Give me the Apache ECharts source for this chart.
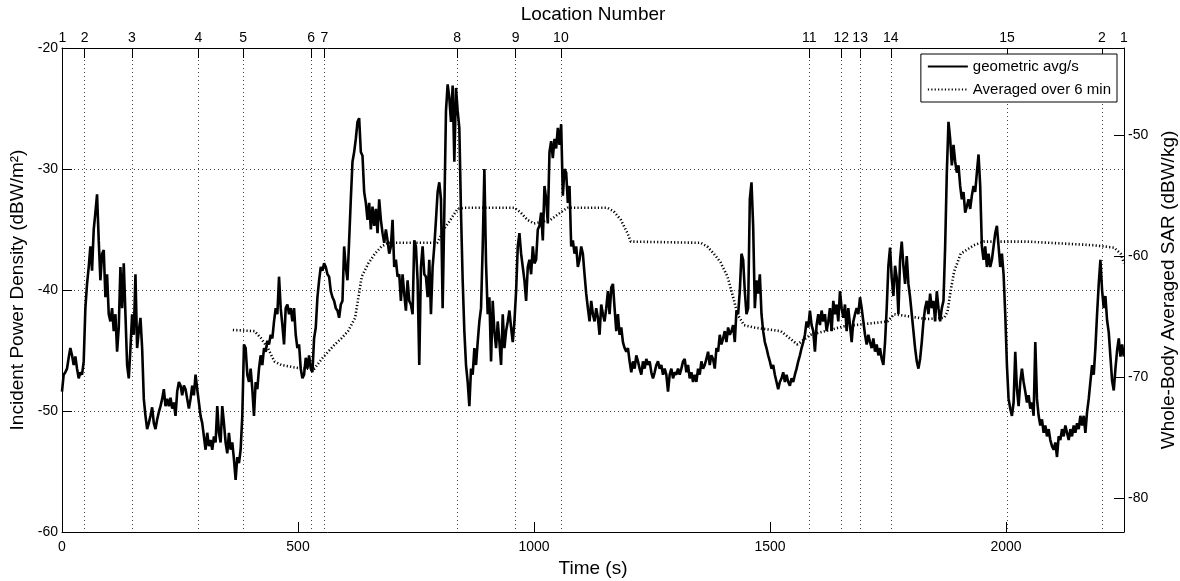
<!DOCTYPE html>
<html>
<head>
<meta charset="utf-8">
<script src="https://cdn.jsdelivr.net/npm/echarts@6/dist/echarts.min.js"></script>
<style>html,body{margin:0;padding:0;background:#fff}#c{width:1180px;height:581px}</style>
</head>
<body>
<div id="c"></div>
<script>
// ---- data ----
const STEP = 3.537; // seconds between samples of the geometric-average trace
const geoValues = [
-48.4,-47.0,-46.8,-46.5,-45.6,-44.8,-45.4,-46.2,-45.5,-46.5,-47.3,-46.8,-47.0,-45.9,-41.5,-39.5,-38.1,-36.4,-38.4,-35.0,
-33.6,-32.1,-35.9,-39.2,-37.0,-36.7,-40.6,-38.7,-42.0,-42.6,-41.5,-43.4,-42.0,-45.1,-43.1,-38.1,-41.5,-37.8,-42.0,-46.2,
-47.3,-44.8,-42.0,-43.7,-38.7,-44.8,-43.4,-42.3,-44.8,-49.0,-50.4,-51.5,-51.0,-50.4,-49.7,-51.0,-51.5,-50.7,-50.1,-49.6,
-49.0,-48.2,-49.6,-49.0,-49.6,-48.9,-49.8,-49.3,-50.4,-48.4,-47.6,-47.9,-48.7,-47.9,-48.2,-49.0,-49.8,-49.0,-47.9,-48.7,
-47.0,-48.2,-49.3,-50.4,-51.0,-52.1,-53.2,-51.8,-52.9,-52.4,-53.2,-52.1,-52.6,-49.6,-51.8,-52.6,-49.6,-51.0,-52.6,-53.5,
-51.8,-53.2,-52.6,-54.0,-55.7,-53.8,-54.3,-53.2,-50.4,-44.5,-44.8,-47.0,-47.6,-46.5,-48.2,-50.4,-47.6,-48.2,-46.5,-45.4,
-46.2,-44.8,-45.1,-44.2,-44.5,-43.7,-44.0,-42.6,-41.5,-42.0,-38.9,-41.5,-42.9,-44.5,-41.5,-41.2,-42.0,-41.5,-42.6,-41.5,
-43.7,-44.8,-44.5,-46.5,-47.3,-47.0,-45.6,-46.5,-45.4,-46.5,-46.8,-44.0,-43.1,-40.6,-39.2,-38.1,-38.4,-37.8,-38.1,-38.7,
-38.9,-40.1,-40.6,-40.9,-41.5,-41.7,-42.3,-41.2,-40.9,-36.4,-38.1,-39.2,-35.9,-32.5,-29.4,-28.6,-27.5,-26.1,-25.8,-28.6,
-28.9,-31.9,-32.8,-34.2,-32.8,-35.0,-33.1,-34.7,-33.3,-35.3,-32.5,-34.2,-35.3,-36.1,-35.0,-35.9,-37.0,-36.4,-34.2,-38.1,
-37.5,-38.9,-38.7,-40.9,-38.7,-40.3,-41.7,-39.2,-40.9,-41.2,-42.0,-35.9,-36.4,-39.2,-46.2,
-38.1,-36.4,-38.7,-38.9,-40.6,-37.5,-42.0,-38.1,-36.4,-34.2,-31.9,-31.1,-32.5,-41.5,-33.6,-25.2,-23.0,-24.1,-26.1,-23.1,
-29.4,-23.3,-25.2,-26.6,-33.6,-39.2,-43.4,-46.2,-47.6,-49.6,-46.5,-47.0,-44.8,-46.2,-44.3,-42.6,-41.5,-36.4,-30.0,-37.8,
-42.0,-40.6,-45.9,-40.9,-43.4,-44.8,-42.6,-44.3,-46.2,-42.0,-44.8,-43.4,-42.6,-41.7,-43.1,-44.3,-42.6,-40.1,-36.4,-35.3,
-37.0,-38.1,-39.2,-40.9,-38.1,-37.5,-38.7,-36.4,-37.8,-37.5,-35.0,-34.7,-33.6,-35.9,-31.4,-32.5,-34.5,-28.6,-27.7,-29.1,
-27.5,-28.3,-26.6,-28.0,-26.3,-32.2,-30.0,-30.3,-32.8,-31.4,-36.4,-35.9,-37.0,-36.4,-38.1,-37.5,-36.4,-37.0,-38.7,-40.3,
-41.5,-42.6,-40.9,-42.0,-42.6,-41.5,-42.3,-43.7,-41.2,-42.0,-42.6,-41.5,-40.1,-42.0,-39.8,-39.5,-41.5,-43.4,-42.0,-43.7,
-43.1,-44.3,-44.8,-45.1,-44.8,-45.9,-46.8,-45.9,-46.5,-45.4,-45.9,-46.5,-47.0,-45.9,-46.5,-45.7,-46.2,-45.9,-46.8,-47.3,
-46.8,-46.2,-45.9,-46.5,-46.2,-47.0,-46.5,-47.0,-48.4,-47.0,-46.5,-47.3,-46.8,-47.0,-46.5,-47.0,-46.5,-45.9,-45.7,-46.8,
-46.2,-47.3,-46.8,-47.6,-47.0,-47.6,-46.5,-47.0,-45.9,-46.5,-46.2,-45.7,-45.1,-46.2,-45.4,-45.7,-46.5,-44.8,-45.1,-43.7,
-44.5,-44.0,-43.4,-44.3,-43.1,-43.7,-43.4,-42.9,-44.3,-41.7,-42.0,-40.1,-37.0,-37.5,-40.1,-42.0,-41.5,-32.5,-31.1,-34.7,
-41.5,-39.2,-40.3,-38.7,-42.0,-43.4,-44.3,-44.8,-45.4,-45.9,-46.5,-46.2,-47.0,-47.6,-48.2,-47.6,
-47.3,-46.8,-47.6,-47.0,-47.6,-47.9,-47.3,-47.6,-47.0,-46.5,-45.9,-45.4,-44.8,-44.3,-43.7,-42.6,-43.1,-41.7,-42.9,-43.4,
-45.1,-42.9,-42.0,-42.9,-41.7,-42.6,-42.0,-43.4,-42.6,-41.5,-43.4,-40.9,-42.0,-41.2,-42.6,-40.1,-41.5,-42.3,-41.2,-43.4,
-41.5,-42.9,-44.3,-42.6,-42.0,-41.5,-42.0,-40.6,-41.5,-42.6,-43.7,-44.5,-43.7,-44.3,-44.8,-44.0,-45.1,-44.5,-45.4,-44.8,
-45.7,-46.2,-44.3,-41.5,-38.0,-36.5,-39.0,-40.5,-38.0,-39.0,-42.0,-37.5,-36.0,-38.0,-39.5,-37.2,-39.5,-40.6,-42.0,-43.4,
-44.8,-45.9,-46.5,-45.7,-44.3,-42.6,-41.5,-40.9,-42.0,-40.3,-41.5,-40.9,-42.6,-40.1,-41.5,-42.6,-41.5,-40.9,-36.4,-30.3,
-26.1,-27.5,-29.7,-28.0,-29.4,-30.3,-29.7,-31.4,-32.5,-31.9,-33.6,-33.1,-32.5,-33.3,-32.2,-31.4,-31.9,-30.3,-28.8,-31.4,
-36.4,-37.5,-36.4,-38.1,-37.0,-38.1,-37.5,-36.4,-35.3,-34.7,-36.4,-38.1,-37.0,-38.7,-42.0,-46.2,-49.0,-49.8,-50.4,-49.3,
-45.1,-48.2,-49.6,-47.6,-46.5,-47.6,-48.4,-49.3,-48.7,-49.8,-49.3,-50.4,-44.3,-49.0,-50.4,-51.2,-50.7,-51.8,-51.2,-52.1,
-51.5,-52.4,-52.9,-53.2,-52.6,-53.8,-52.1,-52.4,-51.5,-52.1,-51.2,-51.8,-52.4,-51.5,-52.1,-51.2,-51.8,-51.0,-51.5,-50.4,
-51.2,-50.4,-51.8,-50.1,-49.0,-47.6,-46.2,-47.0,-44.8,-42.0,-39.5,-37.5,-40.0,-41.5,-40.5,-42.5,-43.5,-45.5,-47.5,-48.3,
-46.5,-45.0,-44.0,-45.5,-44.5,-45.5
];
const avgTimes = [362,408,422,436,450,465,507,535,550,564,578,592,606,621,628,635,649,663,677,691,762,795,809,823,838,852,958,972,986,1000,1035,1056,1071,1155,1169,1184,1198,1205,1353,1367,1381,1395,1410,1424,1431,1445,1466,1523,1558,1586,1657,1749,1763,1833,1869,1876,1883,1890,1904,1932,1953,2045,2186,2229,2243,2250];
const avgValues = [-43.3,-43.4,-44.0,-44.8,-45.9,-46.2,-46.5,-46.5,-45.7,-45.1,-44.5,-44.0,-43.4,-42.3,-40.6,-38.9,-37.8,-37.0,-36.4,-36.1,-36.1,-36.1,-35.0,-34.2,-33.3,-33.2,-33.2,-33.6,-34.2,-34.5,-34.2,-33.6,-33.2,-33.2,-33.5,-34.2,-35.3,-36.0,-36.1,-36.4,-37.0,-37.7,-38.9,-40.9,-42.0,-42.9,-43.1,-43.4,-44.5,-43.7,-43.0,-42.6,-42.0,-42.4,-42.3,-41.8,-40.0,-38.5,-37.0,-36.3,-36.0,-36.0,-36.3,-36.5,-37.0,-37.8];
const locTimes = [1,48,148,289,384,528,556,837,961,1057,1583,1651,1691,1756,2002,2203,2250];
const locNames = ['1','2','3','4','5','6','7','8','9','10','11','12','13','14','15','2','1'];
const timeTicks = [0,500,1000,1500,2000];
const pdTicks = [-60,-50,-40,-30,-20];
const sarTicks = [-80,-70,-60,-50];
const SAR_OFFSET = -22.8; // right axis = left axis + offset

const FONT = 'Liberation Sans, Arial, Helvetica, sans-serif';
const geoData = geoValues.map((v, i) => [i * STEP, v]);
const avgData = avgTimes.map((t, i) => [t, avgValues[i]]);

const chart = echarts.init(document.getElementById('c'), null, {renderer: 'canvas'});
const dots = {show: true, lineStyle: {color: '#444', width: 1, type: [1, 3]}};
const plain = v => String(v);
const axisBase = {
  axisLine: {show: true, onZero: false, lineStyle: {color: '#000', width: 1}},
  axisTick: {show: true, inside: true, length: 10, lineStyle: {color: '#000', width: 1}},
  axisLabel: {color: '#000', fontFamily: FONT, fontSize: 14, formatter: plain},
  nameTextStyle: {color: '#000', fontFamily: FONT, fontSize: 19},
  nameLocation: 'middle'
};
chart.setOption({
  animation: false,
  backgroundColor: '#fff',
  grid: {left: 62, right: 56, top: 48, bottom: 49, containLabel: false, outerBoundsMode: 'none'},
  legend: {
    orient: 'vertical', right: 63, top: 54,
    itemWidth: 40, itemHeight: 12, itemGap: 8,
    padding: [5, 6, 5, 6],
    borderColor: '#000', borderWidth: 1, borderRadius: 0, backgroundColor: '#fff',
    itemStyle: {color: 'rgba(0,0,0,0)', borderColor: 'rgba(0,0,0,0)', borderWidth: 0, opacity: 0},
    textStyle: {color: '#000', fontFamily: FONT, fontSize: 15},
    data: ['geometric avg/s', 'Averaged over 6 min']
  },
  xAxis: [
    Object.assign({}, axisBase, {
      type: 'value', position: 'bottom', min: 0, max: 2250,
      name: 'Time (s)', nameGap: 26,
      axisTick: Object.assign({}, axisBase.axisTick, {customValues: timeTicks}),
      axisLabel: Object.assign({}, axisBase.axisLabel, {customValues: timeTicks, margin: 8}),
      splitLine: {show: false}
    }),
    Object.assign({}, axisBase, {
      type: 'value', position: 'top', min: 0, max: 2250,
      name: 'Location Number', nameGap: 24,
      axisTick: Object.assign({}, axisBase.axisTick, {customValues: locTimes}),
      axisLabel: Object.assign({}, axisBase.axisLabel, {
        customValues: locTimes, margin: 3,
        formatter: function (v) {
          let best = 0;
          for (let i = 0; i < locTimes.length; i++) if (Math.abs(locTimes[i] - v) < Math.abs(locTimes[best] - v)) best = i;
          return locNames[best];
        }
      }),
      splitLine: dots
    })
  ],
  yAxis: [
    Object.assign({}, axisBase, {
      type: 'value', position: 'left', min: -60, max: -20, interval: 10,
      name: 'Incident Power Density (dBW/m²)', nameGap: 30, nameRotate: 90,
      axisTick: Object.assign({}, axisBase.axisTick, {customValues: pdTicks}),
      axisLabel: Object.assign({}, axisBase.axisLabel, {customValues: pdTicks, margin: 4}),
      splitLine: dots
    }),
    Object.assign({}, axisBase, {
      type: 'value', position: 'right', min: -60 + SAR_OFFSET, max: -20 + SAR_OFFSET,
      name: 'Whole-Body Averaged SAR (dBW/kg)', nameGap: 31, nameRotate: 90,
      axisTick: Object.assign({}, axisBase.axisTick, {customValues: sarTicks}),
      axisLabel: Object.assign({}, axisBase.axisLabel, {customValues: sarTicks, margin: 4}),
      splitLine: {show: false}
    })
  ],
  series: [
    {
      name: 'geometric avg/s', type: 'line', xAxisIndex: 0, yAxisIndex: 0,
      data: geoData, symbol: 'none', showSymbol: false, clip: true,
      lineStyle: {color: '#000', width: 2.6}, itemStyle: {color: '#000'}, z: 3
    },
    {
      name: 'Averaged over 6 min', type: 'line', xAxisIndex: 0, yAxisIndex: 0,
      data: avgData, symbol: 'none', showSymbol: false, clip: true,
      lineStyle: {color: '#000', width: 2.6, type: [1.2, 2.2]}, itemStyle: {color: '#000'}, z: 4
    }
  ]
});
</script>
</body>
</html>
